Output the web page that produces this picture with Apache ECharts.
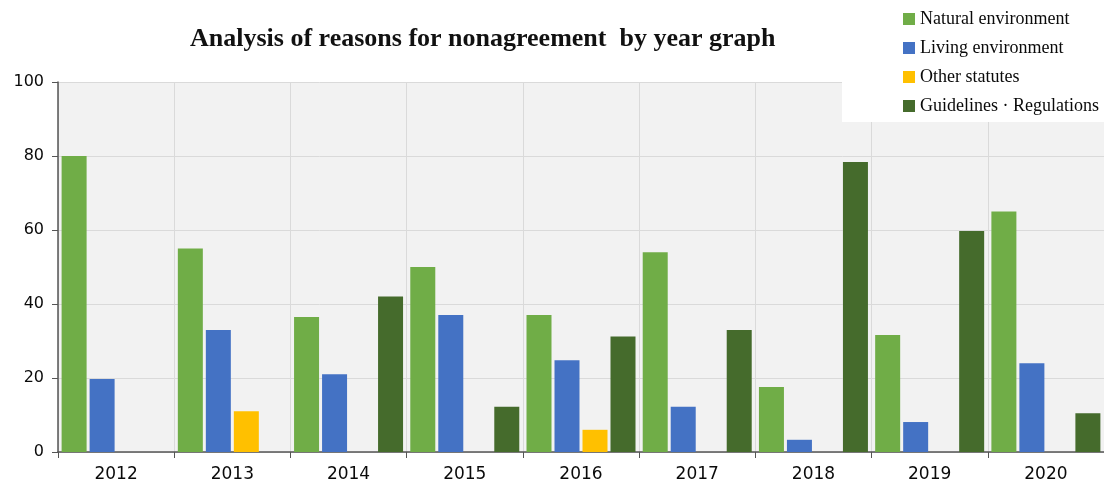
<!DOCTYPE html>
<html>
<head>
<meta charset="utf-8">
<script src="https://cdn.jsdelivr.net/npm/echarts@6/dist/echarts.min.js"></script>
<style>
  html, body { margin: 0; padding: 0; background: #ffffff; }
  #chart { width: 1104px; height: 485px; }
</style>
</head>
<body>
<div id="chart"></div>
<script>
// Years on the category axis
const years = ['2012', '2013', '2014', '2015', '2016', '2017', '2018', '2019', '2020'];

// Reasons for nonagreement, per year
const naturalEnv   = [80, 55, 36.5, 50, 37, 54, 17.6, 31.6, 65];
const livingEnv    = [19.7, 33, 21, 37, 24.8, 12.2, 3.3, 8.1, 24];
const otherStatute = [0, 11, 0, 0, 6, 0, 0, 0, 0];
const guidelines   = [0, 0, 42, 12.2, 31.2, 33, 78.4, 59.7, 10.5];

const seriesNames = ['Natural environment', 'Living environment', 'Other statutes', 'Guidelines \u00b7 Regulations'];
const seriesColors = ['#70ad47', '#4472c4', '#ffc000', '#456b2c'];
const seriesData = [naturalEnv, livingEnv, otherStatute, guidelines];

// Y axis ticks
const yMin = 0, yMax = 100, yStep = 20;

const chart = echarts.init(document.getElementById('chart'), null, { renderer: 'canvas' });

chart.setOption({
  animation: false,
  backgroundColor: '#ffffff',
  title: {
    text: 'Analysis of reasons for nonagreement  by year graph',
    left: 185,
    top: 21,
    textStyle: {
      fontFamily: 'Liberation Serif',
      fontSize: 26,
      fontWeight: 'bold',
      color: '#111111'
    }
  },
  legend: {
    orient: 'vertical',
    left: 903,
    top: 10,
    padding: 0,
    itemGap: 11,
    itemWidth: 12,
    itemHeight: 12,
    icon: 'rect',
    data: seriesNames,
    textStyle: {
      fontFamily: 'Liberation Serif',
      fontSize: 18,
      color: '#0a0a0a'
    }
  },
  graphic: [{
    type: 'rect',
    z: 3,
    shape: { x: 842, y: 0, width: 262, height: 122 },
    style: { fill: '#ffffff' }
  }],
  grid: {
    left: 58,
    top: 82,
    width: 1048,
    height: 370,
    show: true,
    backgroundColor: '#f2f2f2',
    borderWidth: 0
  },
  xAxis: {
    type: 'category',
    data: years,
    boundaryGap: true,
    axisLine: { lineStyle: { color: '#555555', width: 1.5 } },
    axisTick: { show: true, length: 6, lineStyle: { color: '#555555' } },
    axisLabel: {
      margin: 14,
      fontFamily: 'DejaVu Sans',
      fontSize: 17,
      color: '#0a0a0a'
    },
    splitLine: { show: true, lineStyle: { color: '#dadada' } }
  },
  yAxis: {
    type: 'value',
    min: yMin,
    max: yMax,
    interval: yStep,
    axisLine: { show: true, lineStyle: { color: '#555555', width: 1.5 } },
    axisTick: { show: true, length: 6, lineStyle: { color: '#555555' } },
    axisLabel: {
      margin: 14,
      fontFamily: 'DejaVu Sans',
      fontSize: 16,
      color: '#0a0a0a'
    },
    splitLine: { show: true, lineStyle: { color: '#dadada' } }
  },
  series: seriesNames.map((name, i) => ({
    name: name,
    type: 'bar',
    data: seriesData[i],
    barWidth: 25,
    barGap: '12%',
    itemStyle: { color: seriesColors[i] }
  }))
});
</script>
</body>
</html>
